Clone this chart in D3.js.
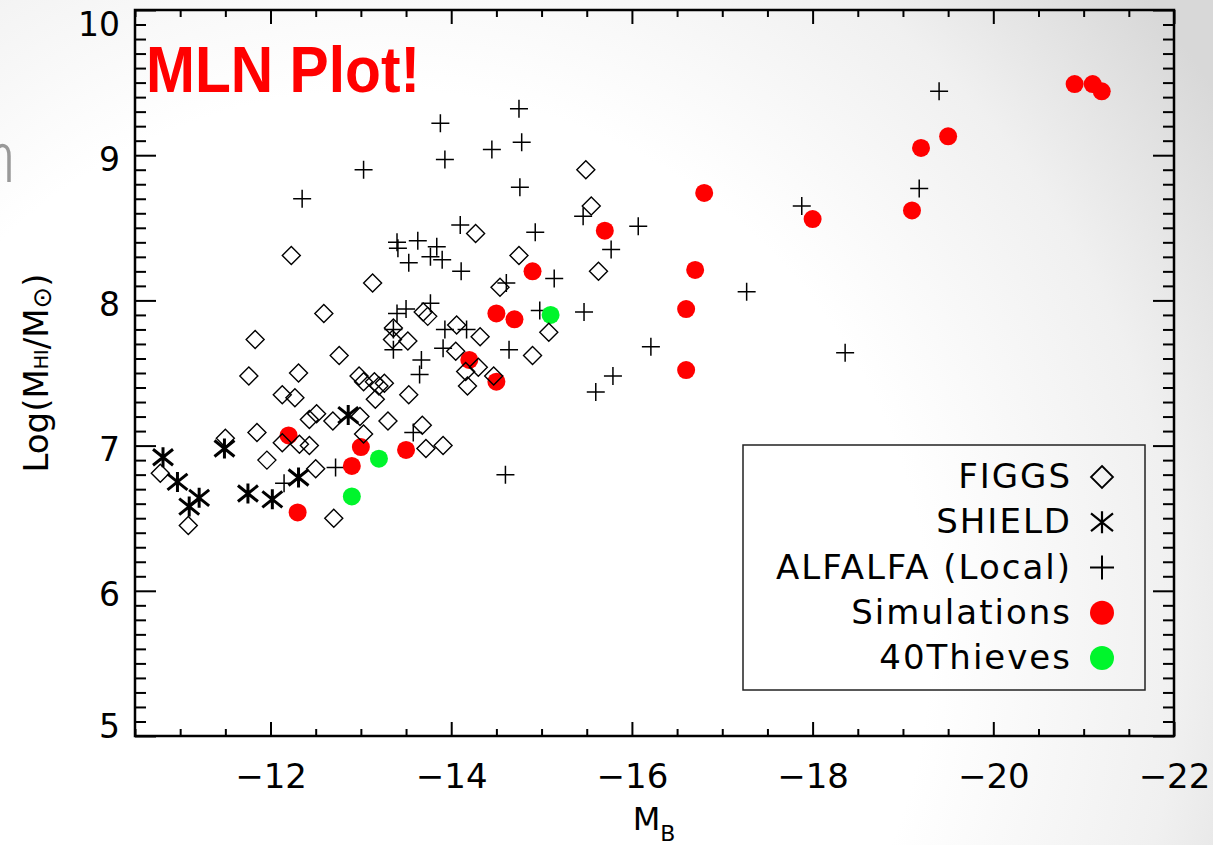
<!DOCTYPE html>
<html>
<head>
<meta charset="utf-8">
<script src="https://cdn.jsdelivr.net/npm/d3@7"></script>
<style>
  html, body { margin: 0; padding: 0; overflow: hidden; background: #fff; }
  svg { display: block; }
</style>
</head>
<body>
<svg id="chart" width="1213" height="845"></svg>
<script>
// ---------- data ----------
// x ticks (absolute blue magnitude) and y ticks (log HI mass)
const xTickValues = [-12, -14, -16, -18, -20, -22];
const yTickValues = [5, 6, 7, 8, 9, 10];

// FIGGS galaxies
const figgsMB = [-12.23, -15.49, -15.55, -14.27, -14.75, -15.63, -13.13, -14.54, -12.59, -13.69,
  -13.74, -15.08, -11.83, -13.36, -13.35, -13.52, -14.06, -14.32, -14.05, -12.76,
  -11.76, -12.31, -12.98, -13.03, -13.15, -13.20, -13.26, -14.30, -14.16, -14.47,
  -14.18, -14.90, -12.13, -12.27, -13.53, -13.16, -12.51, -12.43, -12.69, -12.99,
  -13.30, -13.68, -11.50, -11.85, -12.32, -12.13, -12.43, -13.03, -13.72, -13.91,
  -11.96, -12.50, -10.78, -11.09, -12.70];
const figgsLogM = [8.31, 8.90, 8.65, 8.46, 8.31, 8.20, 8.12, 8.09, 7.91, 7.92,
  7.89, 7.78, 7.73, 7.81, 7.73, 7.72, 7.83, 7.75, 7.65, 7.62,
  7.48, 7.50, 7.48, 7.44, 7.44, 7.41, 7.43, 7.54, 7.51, 7.48,
  7.41, 7.62, 7.35, 7.33, 7.35, 7.32, 7.22, 7.18, 7.17, 7.20,
  7.17, 7.14, 7.05, 7.09, 7.01, 7.02, 7.00, 7.08, 6.98, 7.00,
  6.90, 6.84, 6.81, 6.45, 6.50];

// SHIELD galaxies
const shieldMB = [-10.81, -10.97, -11.21, -11.10, -11.49, -11.75, -12.02, -12.31, -12.86];
const shieldLogM = [6.92, 6.75, 6.64, 6.58, 6.98, 6.67, 6.63, 6.78, 7.21];

// ALFALFA (Local) galaxies
const alfalfaMB = [-12.35, -13.03, -13.88, -13.93, -14.75, -14.78, -14.45, -14.76, -14.10, -14.93,
  -15.46, -16.07, -15.77, -15.14, -14.61, -14.11, -17.88, -19.18, -19.40, -17.27,
  -16.21, -15.79, -15.60, -18.36, -14.64, -14.60, -15.47, -14.98, -14.17, -13.93,
  -13.91, -13.67, -13.65, -13.58, -13.40, -13.50, -13.77, -13.36, -13.36, -12.72,
  -12.15, -13.40, -13.41, -13.63, -13.53, -13.77, -13.84, -13.90];
const alfalfaLogM = [8.70, 8.90, 9.22, 8.97, 9.32, 9.09, 9.04, 8.78, 8.52, 8.47,
  8.58, 8.51, 8.35, 8.15, 8.12, 8.20, 8.65, 8.77, 9.44, 8.06,
  7.68, 7.48, 7.37, 7.64, 7.66, 6.80, 7.92, 7.93, 7.80, 7.80,
  7.67, 7.59, 7.49, 7.09, 7.91, 7.94, 7.98, 7.80, 7.66, 6.85,
  6.74, 8.40, 8.36, 8.41, 8.26, 8.30, 8.37, 8.28];

// Simulated galaxies
const simMB = [-12.20, -12.30, -13.00, -12.90, -13.50, -14.20, -14.50, -14.50, -14.70, -14.90,
  -15.70, -16.80, -16.70, -16.60, -16.60, -18.00, -19.10, -19.20, -19.50, -20.90,
  -21.10, -21.20];
const simLogM = [7.07, 6.54, 6.99, 6.86, 6.97, 7.59, 7.44, 7.91, 7.87, 8.20,
  8.48, 8.74, 8.21, 7.94, 7.52, 8.56, 8.62, 9.05, 9.13, 9.49,
  9.49, 9.44];

// 40 Thieves galaxies
const thievesMB = [-13.20, -12.90, -15.10];
const thievesLogM = [6.91, 6.65, 7.90];

// legend labels, top to bottom
const legendLabels = ["FIGGS", "SHIELD", "ALFALFA (Local)", "Simulations", "40Thieves"];
const legendKinds = ["diamond", "asterisk", "plus", "sim", "thieves"];

// ---------- layout ----------
const W = 1213, H = 845;
const plot = { left: 135, right: 1174, top: 10, bottom: 736 };
const FONT = "'DejaVu Sans', 'Liberation Sans', sans-serif";

const svg = d3.select("#chart");

// soft slide-style background
const defs = svg.append("defs");
const bg = defs.append("radialGradient")
  .attr("id", "bgGrad").attr("gradientUnits", "userSpaceOnUse")
  .attr("cx", 380).attr("cy", 640).attr("r", 1000);
bg.append("stop").attr("offset", 0).attr("stop-color", "#ffffff");
bg.append("stop").attr("offset", 0.55).attr("stop-color", "#ffffff");
bg.append("stop").attr("offset", 0.8).attr("stop-color", "#f0f0f0");
bg.append("stop").attr("offset", 1).attr("stop-color", "#d8d8d8");
svg.append("rect").attr("width", W).attr("height", H).attr("fill", "url(#bgGrad)");

// edge of a slide glyph peeking in at the left border
svg.append("path")
  .attr("d", "M-4,150 C1,143 9,144 9,156 V182")
  .attr("fill", "none").attr("stroke", "#999").attr("stroke-width", 3.5);

const x = d3.scaleLinear().domain([-10.5, -22]).range([plot.left, plot.right]);
const y = d3.scaleLinear().domain([5, 10]).range([plot.bottom, plot.top]);

const xMinor = d3.range(-10.5, -22.01, -0.5).filter(v => !xTickValues.includes(v));
const yMinor = d3.range(50, 101, 1).map(v => v / 10).filter(v => !yTickValues.includes(v));

function styleAxis(g) {
  g.select(".domain").remove();
  g.selectAll(".tick line").attr("stroke", "#000").attr("stroke-width", 2);
}

// bottom axis (ticks point inward, labels below)
const gx = svg.append("g").attr("transform", `translate(0,${plot.bottom})`)
  .call(d3.axisBottom(x).tickValues(xTickValues).tickSize(-14).tickSizeOuter(0).tickPadding(28)
    .tickFormat(d => "\u2212" + Math.abs(d)));
styleAxis(gx);
gx.selectAll(".tick text").attr("font-size", 34).style("font-family", FONT).attr("fill", "#000");
svg.append("g").attr("transform", `translate(0,${plot.bottom})`)
  .call(d3.axisBottom(x).tickValues(xMinor).tickSize(-7).tickSizeOuter(0).tickFormat(""))
  .call(styleAxis);

// top axis
svg.append("g").attr("transform", `translate(0,${plot.top})`)
  .call(d3.axisTop(x).tickValues(xTickValues).tickSize(-14).tickSizeOuter(0).tickFormat(""))
  .call(styleAxis);
svg.append("g").attr("transform", `translate(0,${plot.top})`)
  .call(d3.axisTop(x).tickValues(xMinor).tickSize(-7).tickSizeOuter(0).tickFormat(""))
  .call(styleAxis);

// left axis
const gy = svg.append("g").attr("transform", `translate(${plot.left},0)`)
  .call(d3.axisLeft(y).tickValues(yTickValues).tickSize(-21).tickSizeOuter(0).tickPadding(15)
    .tickFormat(d3.format("d")));
styleAxis(gy);
gy.selectAll(".tick text")
  .attr("font-size", 33).style("font-family", FONT).attr("fill", "#000")
  .attr("dy", null)
  .attr("y", d => {
    const base = Math.min(Math.max(y(d) + 15, plot.top + 25), plot.bottom + 1);
    return base - y(d);
  });
svg.append("g").attr("transform", `translate(${plot.left},0)`)
  .call(d3.axisLeft(y).tickValues(yMinor).tickSize(-11).tickSizeOuter(0).tickFormat(""))
  .call(styleAxis);

// right axis
svg.append("g").attr("transform", `translate(${plot.right},0)`)
  .call(d3.axisRight(y).tickValues(yTickValues).tickSize(-21).tickSizeOuter(0).tickFormat(""))
  .call(styleAxis);
svg.append("g").attr("transform", `translate(${plot.right},0)`)
  .call(d3.axisRight(y).tickValues(yMinor).tickSize(-11).tickSizeOuter(0).tickFormat(""))
  .call(styleAxis);

// frame
svg.append("rect")
  .attr("x", plot.left).attr("y", plot.top)
  .attr("width", plot.right - plot.left).attr("height", plot.bottom - plot.top)
  .attr("fill", "none").attr("stroke", "#000").attr("stroke-width", 2.5);

// axis titles
const xTitle = svg.append("text")
  .attr("x", 654).attr("y", 830).attr("text-anchor", "middle")
  .style("font-family", FONT).attr("font-size", 32).attr("fill", "#000");
xTitle.append("tspan").text("M");
xTitle.append("tspan").attr("font-size", 22).attr("dy", 11).text("B");

const yTitle = svg.append("text")
  .attr("transform", `translate(48,${(plot.top + plot.bottom) / 2}) rotate(-90)`)
  .attr("text-anchor", "middle")
  .style("font-family", FONT).attr("font-size", 34).attr("fill", "#000");
yTitle.append("tspan").text("Log(M");
yTitle.append("tspan").attr("font-size", 19).attr("dy", 0).text("HI");
yTitle.append("tspan").attr("dy", 0).text("/M");
yTitle.append("tspan").attr("font-size", 26).attr("dy", 3).text("\u2299");
yTitle.append("tspan").attr("dy", -3).text(")");

// ---------- marker shapes ----------
const shapes = {
  diamond: r => `M0,${-r}L${r},0L0,${r}L${-r},0Z`,
  plus: r => `M${-r},0H${r}M0,${-r}V${r}`,
  asterisk: r => `M0,${-r}V${r}M${-r},${-r * 0.8}L${r},${r * 0.8}M${-r},${r * 0.8}L${r},${-r * 0.8}`
};

const pts = (mb, lm) => d3.zip(mb, lm);

// ALFALFA crosses
svg.append("g").selectAll("path").data(pts(alfalfaMB, alfalfaLogM)).join("path")
  .attr("transform", d => `translate(${x(d[0])},${y(d[1])})`)
  .attr("d", shapes.plus(9))
  .attr("fill", "none").attr("stroke", "#000").attr("stroke-width", 1.5);

// simulations
svg.append("g").selectAll("circle").data(pts(simMB, simLogM)).join("circle")
  .attr("cx", d => x(d[0])).attr("cy", d => y(d[1])).attr("r", 9)
  .attr("fill", "#ff0000");

// 40 Thieves
svg.append("g").selectAll("circle").data(pts(thievesMB, thievesLogM)).join("circle")
  .attr("cx", d => x(d[0])).attr("cy", d => y(d[1])).attr("r", 9)
  .attr("fill", "#00f52c");

// FIGGS diamonds
svg.append("g").selectAll("path").data(pts(figgsMB, figgsLogM)).join("path")
  .attr("transform", d => `translate(${x(d[0])},${y(d[1])})`)
  .attr("d", shapes.diamond(9))
  .attr("fill", "none").attr("stroke", "#000").attr("stroke-width", 1.4);

// SHIELD asterisks
svg.append("g").selectAll("path").data(pts(shieldMB, shieldLogM)).join("path")
  .attr("transform", d => `translate(${x(d[0])},${y(d[1])})`)
  .attr("d", shapes.asterisk(10))
  .attr("fill", "none").attr("stroke", "#000").attr("stroke-width", 3);

// ---------- legend ----------
const legend = svg.append("g");
legend.append("rect")
  .attr("x", 743).attr("y", 445).attr("width", 402).attr("height", 245)
  .attr("fill", "none").attr("stroke", "#222").attr("stroke-width", 1.5);

const rowY = d3.scalePoint().domain(legendLabels).range([477, 658]);
const rows = legend.selectAll("g.row").data(legendLabels).join("g")
  .attr("class", "row")
  .attr("transform", d => `translate(0,${rowY(d)})`);
rows.append("text")
  .attr("x", 1072).attr("y", 11).attr("text-anchor", "end")
  .style("font-family", FONT).attr("font-size", 34).attr("letter-spacing", "2px").attr("fill", "#000")
  .text(d => d);
rows.each(function (d, i) {
  const g = d3.select(this);
  const kind = legendKinds[i];
  if (kind === "diamond") {
    g.append("path").attr("transform", "translate(1102,0)").attr("d", shapes.diamond(11))
      .attr("fill", "none").attr("stroke", "#000").attr("stroke-width", 1.8);
  } else if (kind === "asterisk") {
    g.append("path").attr("transform", "translate(1102,0)").attr("d", shapes.asterisk(11))
      .attr("fill", "none").attr("stroke", "#000").attr("stroke-width", 2.2);
  } else if (kind === "plus") {
    g.append("path").attr("transform", "translate(1102,0)").attr("d", shapes.plus(12))
      .attr("fill", "none").attr("stroke", "#000").attr("stroke-width", 2);
  } else {
    g.append("circle").attr("cx", 1102).attr("cy", 0).attr("r", 12)
      .attr("fill", kind === "sim" ? "#ff0000" : "#00f52c");
  }
});

// title
svg.append("text")
  .attr("x", 146).attr("y", 92)
  .style("font-family", "'Liberation Sans', Arial, sans-serif")
  .attr("font-weight", "bold").attr("font-size", 65)
  .attr("textLength", 274).attr("lengthAdjust", "spacingAndGlyphs")
  .attr("fill", "#ff0000")
  .text("MLN Plot!");
</script>
</body>
</html>
